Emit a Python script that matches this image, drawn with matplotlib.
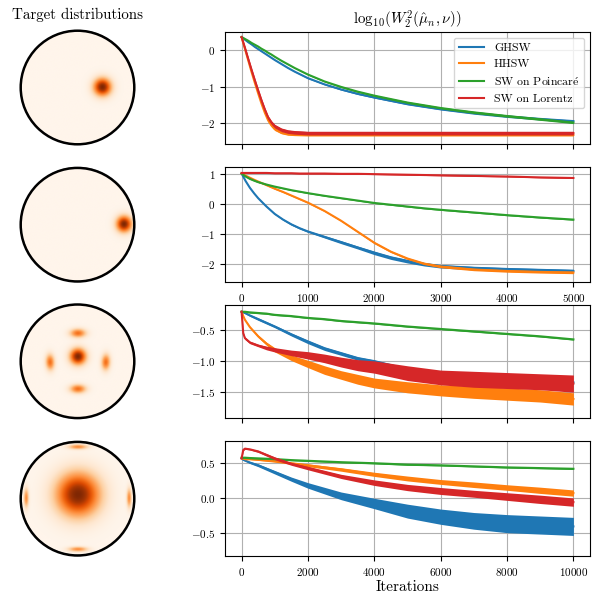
#!/usr/bin/env python3
"""Target distributions on the Poincare disk and W2 convergence curves."""

import matplotlib

matplotlib.use("Agg")
import matplotlib.pyplot as plt
from matplotlib.patches import Circle
import numpy as np

# ---------------------------------------------------------------- data
LABELS = ["GHSW", "HHSW", r"SW on Poincar$\mathrm{\acute{e}}$", "SW on Lorentz"]
COLORS = ["#1f77b4", "#ff7f0e", "#2ca02c", "#d62728"]

# row 1 (5000 iterations)
r1_t = [0, 50, 100, 150, 200, 250, 300, 350, 400, 450, 500, 600, 700, 800, 1000,
        1250, 1500, 1750, 2000, 2500, 3000, 3500, 4000, 4500, 5000]
r1_ghsw = [0.36, 0.29, 0.22, 0.16, 0.09, 0.03, -0.03, -0.09, -0.15, -0.21, -0.27, -0.38, -0.49,
           -0.59, -0.77, -0.94, -1.08, -1.2, -1.3, -1.48, -1.62, -1.73, -1.82, -1.89, -1.95]
r1_hhsw = [0.36, 0.04, -0.28, -0.6, -0.9, -1.19, -1.47, -1.72, -1.93, -2.07, -2.17, -2.27, -2.31,
           -2.32, -2.33, -2.33, -2.33, -2.33, -2.33, -2.33, -2.33, -2.33, -2.33, -2.33, -2.33]
r1_swp = [0.36, 0.31, 0.26, 0.2, 0.15, 0.1, 0.04, -0.01, -0.07, -0.12, -0.18, -0.29, -0.39,
          -0.49, -0.67, -0.86, -1.01, -1.14, -1.25, -1.44, -1.59, -1.71, -1.81, -1.9, -1.99]
r1_swl = [0.36, 0.07, -0.24, -0.54, -0.83, -1.11, -1.38, -1.63, -1.85, -1.99, -2.09, -2.19, -2.24,
          -2.26, -2.28, -2.28, -2.28, -2.28, -2.28, -2.28, -2.28, -2.28, -2.28, -2.28, -2.28]
r1_ghsw_n = [0.01, 0.01, 0.01, 0.01, 0.01, 0.01, 0.01, 0.01, 0.01, 0.01, 0.01, 0.01, 0.01,
             0.01, 0.015, 0.015, 0.02, 0.02, 0.02, 0.025, 0.025, 0.03, 0.03, 0.03, 0.03]
r1_hhsw_n = [0.01, 0.03, 0.04, 0.04, 0.04, 0.04, 0.04, 0.04, 0.04, 0.04, 0.04, 0.03, 0.03,
             0.03, 0.03, 0.03, 0.03, 0.03, 0.03, 0.03, 0.03, 0.03, 0.03, 0.03, 0.03]
r1_swp_n = [0.01, 0.01, 0.01, 0.01, 0.01, 0.01, 0.01, 0.01, 0.01, 0.01, 0.01, 0.01, 0.01,
            0.01, 0.015, 0.015, 0.02, 0.02, 0.02, 0.025, 0.025, 0.03, 0.03, 0.03, 0.03]
r1_swl_n = [0.01, 0.04, 0.05, 0.05, 0.05, 0.05, 0.05, 0.05, 0.05, 0.05, 0.05, 0.05, 0.05,
            0.05, 0.05, 0.05, 0.05, 0.05, 0.05, 0.05, 0.05, 0.05, 0.05, 0.05, 0.05]

# row 2 (5000 iterations)
r2_t = [0, 60, 125, 190, 250, 375, 500, 625, 750, 875, 1000, 1250, 1500, 1750, 2000, 2250,
        2500, 2750, 3000, 3500, 4000, 4500, 5000]
r2_ghsw = [1.03, 0.78, 0.55, 0.36, 0.2, -0.08, -0.33, -0.52, -0.68, -0.81, -0.92, -1.1, -1.28,
           -1.46, -1.64, -1.8, -1.92, -2.02, -2.09, -2.15, -2.19, -2.22, -2.25]
r2_hhsw = [1.03, 0.96, 0.89, 0.82, 0.76, 0.64, 0.52, 0.41, 0.29, 0.17, 0.05, -0.23, -0.56,
           -0.93, -1.3, -1.6, -1.83, -2.0, -2.1, -2.2, -2.25, -2.28, -2.3]
r2_swp = [1.03, 0.93, 0.85, 0.79, 0.74, 0.66, 0.59, 0.53, 0.47, 0.42, 0.37, 0.28, 0.2,
          0.12, 0.04, -0.02, -0.08, -0.14, -0.19, -0.28, -0.37, -0.45, -0.52]
r2_swl = [1.05, 1.05, 1.05, 1.05, 1.05, 1.05, 1.04, 1.04, 1.04, 1.03, 1.03, 1.03, 1.02,
          1.02, 1.01, 1.0, 0.99, 0.98, 0.97, 0.95, 0.93, 0.9, 0.88]
r2_ghsw_n = [0.01, 0.01, 0.01, 0.015, 0.015, 0.02, 0.02, 0.025, 0.03, 0.03, 0.03, 0.04, 0.05,
             0.05, 0.06, 0.06, 0.06, 0.06, 0.06, 0.06, 0.06, 0.06, 0.06]
r2_hhsw_n = [0.01, 0.015, 0.015, 0.015, 0.015, 0.015, 0.02, 0.02, 0.02, 0.02, 0.02, 0.02, 0.02,
             0.025, 0.03, 0.03, 0.03, 0.035, 0.04, 0.04, 0.04, 0.04, 0.04]
r2_swp_n = [0.01, 0.015, 0.015, 0.015, 0.015, 0.015, 0.015, 0.015, 0.015, 0.015, 0.015, 0.015,
            0.015, 0.015, 0.02, 0.02, 0.02, 0.02, 0.02, 0.02, 0.02, 0.02, 0.02]
r2_swl_n = [0.015, 0.015, 0.015, 0.015, 0.015, 0.015, 0.015, 0.015, 0.015, 0.015, 0.015, 0.015,
            0.015, 0.015, 0.015, 0.015, 0.015, 0.015, 0.015, 0.015, 0.015, 0.015, 0.015]

# row 3 (10000 iterations)
r3_t = [0, 50, 100, 250, 500, 750, 1000, 1500, 2000, 2500, 3000, 3500, 4000, 5000, 6000,
        7000, 8000, 9000, 10000]
r3_ghsw = [-0.2, -0.21, -0.22, -0.26, -0.32, -0.38, -0.44, -0.57, -0.69, -0.8, -0.88, -0.96,
           -1.01, -1.14, -1.22, -1.27, -1.3, -1.32, -1.35]
r3_hhsw = [-0.2, -0.27, -0.33, -0.45, -0.6, -0.72, -0.82, -0.95, -1.05, -1.15, -1.23, -1.3,
           -1.36, -1.43, -1.48, -1.51, -1.54, -1.57, -1.62]
r3_swp = [-0.2, -0.2, -0.2, -0.21, -0.22, -0.23, -0.25, -0.27, -0.3, -0.32, -0.35, -0.37,
          -0.39, -0.44, -0.48, -0.52, -0.56, -0.6, -0.65]
r3_swl = [-0.2, -0.55, -0.63, -0.7, -0.75, -0.79, -0.82, -0.87, -0.91, -0.96, -1.02, -1.07,
          -1.1, -1.2, -1.27, -1.3, -1.32, -1.34, -1.37]
r3_ghsw_n = [0.01, 0.01, 0.01, 0.015, 0.02, 0.02, 0.02, 0.025, 0.03, 0.03, 0.03, 0.03, 0.03,
             0.03, 0.03, 0.03, 0.03, 0.03, 0.03]
r3_hhsw_n = [0.01, 0.01, 0.01, 0.015, 0.02, 0.025, 0.035, 0.045, 0.06, 0.07, 0.07, 0.08, 0.08,
             0.09, 0.09, 0.1, 0.1, 0.1, 0.1]
r3_swp_n = [0.012, 0.012, 0.012, 0.012, 0.012, 0.012, 0.012, 0.012, 0.012, 0.012, 0.012,
            0.012, 0.012, 0.012, 0.012, 0.012, 0.012, 0.012, 0.012]
r3_swl_n = [0.01, 0.02, 0.02, 0.02, 0.02, 0.03, 0.035, 0.045, 0.06, 0.07, 0.08, 0.09, 0.1,
            0.12, 0.12, 0.13, 0.13, 0.13, 0.14]

# row 4 (10000 iterations)
r4_t = [0, 50, 100, 250, 500, 1000, 1500, 2000, 3000, 4000, 5000, 6000, 7000, 8000, 9000, 10000]
r4_ghsw = [0.57, 0.55, 0.54, 0.51, 0.47, 0.37, 0.27, 0.18, 0.03, -0.08, -0.19, -0.27, -0.33,
           -0.37, -0.39, -0.41]
r4_hhsw = [0.57, 0.57, 0.56, 0.56, 0.55, 0.53, 0.5, 0.47, 0.41, 0.34, 0.28, 0.23, 0.19, 0.15,
           0.11, 0.07]
r4_swp = [0.58, 0.58, 0.58, 0.575, 0.57, 0.56, 0.545, 0.535, 0.515, 0.5, 0.48, 0.47, 0.455,
          0.44, 0.43, 0.42]
r4_swl = [0.57, 0.69, 0.71, 0.7, 0.67, 0.57, 0.49, 0.43, 0.31, 0.22, 0.15, 0.1, 0.06, 0.02,
          -0.02, -0.06]
r4_ghsw_n = [0.01, 0.01, 0.01, 0.015, 0.02, 0.025, 0.03, 0.04, 0.055, 0.075, 0.1, 0.11, 0.12,
             0.13, 0.13, 0.13]
r4_hhsw_n = [0.01, 0.01, 0.01, 0.01, 0.01, 0.015, 0.015, 0.02, 0.025, 0.03, 0.035, 0.035, 0.04,
             0.04, 0.045, 0.045]
r4_swp_n = [0.01, 0.01, 0.01, 0.01, 0.01, 0.01, 0.01, 0.01, 0.01, 0.01, 0.01, 0.01, 0.01,
            0.01, 0.01, 0.01]
r4_swl_n = [0.01, 0.01, 0.01, 0.01, 0.015, 0.02, 0.02, 0.025, 0.03, 0.04, 0.045, 0.05, 0.05,
            0.055, 0.06, 0.06]

# target blobs on the disk: (cx, cy, sigma radial, sigma tangential, weight)
disk1_blobs = [(0.43, 0.0, 0.11, 0.11, 1.0)]
disk2_blobs = [(0.81, 0.0, 0.095, 0.1, 1.0)]
disk3_blobs = [(0.0, 0.08, 0.1, 0.1, 1.0),
               (0.49, -0.02, 0.055, 0.1, 0.6),
               (-0.49, -0.02, 0.055, 0.1, 0.6),
               (0.0, 0.49, 0.055, 0.1, 0.6),
               (0.0, -0.49, 0.055, 0.1, 0.6)]
disk4_blobs = [(0.0, 0.06, 0.27, 0.27, 1.0),
               (0.9, 0.0, 0.03, 0.12, 0.5),
               (-0.91, 0.0, 0.03, 0.12, 0.5),
               (0.0, 0.9, 0.03, 0.12, 0.5),
               (0.0, -0.9, 0.03, 0.12, 0.5)]


def configure_matplotlib():
    plt.rcParams.update(
        {
            "font.family": "serif",
            "font.serif": ["cmr10"],
            "mathtext.fontset": "cm",
            "axes.formatter.use_mathtext": True,
            "axes.unicode_minus": True,
            "font.size": 10,
            "xtick.labelsize": 8,
            "ytick.labelsize": 8,
            "legend.fontsize": 8.5,
        }
    )


def disk_density(blobs, n=400):
    g = np.linspace(-1, 1, n)
    x, y = np.meshgrid(g, g)
    z = np.zeros_like(x)
    for cx, cy, sr, st, w in blobs:
        ang = np.arctan2(cy, cx) if (cx or cy) else 0.0
        dx, dy = x - cx, y - cy
        dr = dx * np.cos(ang) + dy * np.sin(ang)
        dt = -dx * np.sin(ang) + dy * np.cos(ang)
        z += w * np.exp(-0.5 * ((dr / sr) ** 2 + (dt / st) ** 2))
    z = z / z.max()
    return np.ma.masked_where(x ** 2 + y ** 2 > 1, z)


def draw_disk(ax, blobs):
    z = disk_density(blobs)
    ax.imshow(z, cmap="Oranges", origin="lower", extent=(-1, 1, -1, 1),
              vmin=0, vmax=1, interpolation="bilinear")
    ax.add_patch(Circle((0, 0), 1.0, fill=False, edgecolor="black", linewidth=1.8))
    ax.set_xlim(-1.03, 1.03)
    ax.set_ylim(-1.03, 1.03)
    ax.set_aspect("equal")
    ax.axis("off")


def draw_curves(ax, t, series, noise):
    # each run keeps its band and its line together, later runs on top
    for k, (vals, nz, color, label) in enumerate(zip(series, noise, COLORS, LABELS)):
        v = np.asarray(vals)
        n = np.asarray(nz)
        ax.fill_between(t, v - n, v + n, color=color, linewidth=0, zorder=2 + k)
        ax.plot(t, v, color=color, linewidth=1.5, label=label, zorder=2.5 + k)
    ax.grid(True, color="#b0b0b0", linewidth=0.8)
    ax.set_axisbelow(True)


def main():
    configure_matplotlib()
    W, H = 600, 595
    fig = plt.figure(figsize=(W / 100, H / 100), dpi=100)

    def px_axes(left, top, right, bottom):
        return fig.add_axes([left / W, 1 - bottom / H, (right - left) / W, (bottom - top) / H])

    # left column: target distributions
    centers = [87.5, 224.7, 361.3, 498.7]
    half = 58.5
    for cy, blobs in zip(centers, [disk1_blobs, disk2_blobs, disk3_blobs, disk4_blobs]):
        ax = px_axes(77.5 - half, cy - half, 77.5 + half, cy + half)
        draw_disk(ax, blobs)
    fig.text(77.5 / W, 1 - 19.5 / H, "Target distributions", ha="center", va="baseline",
             fontsize=10.8)

    # right column: convergence curves
    rows = [
        (32, 144, r1_t, [r1_ghsw, r1_hhsw, r1_swp, r1_swl],
         [r1_ghsw_n, r1_hhsw_n, r1_swp_n, r1_swl_n], (-2.58, 0.5), [-2, -1, 0]),
        (167, 282, r2_t, [r2_ghsw, r2_hhsw, r2_swp, r2_swl],
         [r2_ghsw_n, r2_hhsw_n, r2_swp_n, r2_swl_n], (-2.62, 1.25), [-2, -1, 0, 1]),
        (305, 418, r3_t, [r3_ghsw, r3_hhsw, r3_swp, r3_swl],
         [r3_ghsw_n, r3_hhsw_n, r3_swp_n, r3_swl_n], (-1.93, -0.09), [-1.5, -1.0, -0.5]),
        (441, 556, r4_t, [r4_ghsw, r4_hhsw, r4_swp, r4_swl],
         [r4_ghsw_n, r4_hhsw_n, r4_swp_n, r4_swl_n], (-0.836, 0.82), [-0.5, 0.0, 0.5]),
    ]
    axes = []
    for i, (top, bottom, t, series, noise, ylim, yticks) in enumerate(rows):
        ax = px_axes(225, top, 590, bottom)
        draw_curves(ax, t, series, noise)
        ax.set_ylim(*ylim)
        ax.set_yticks(yticks)
        if i < 2:
            ax.set_xlim(-250, 5250)
            ax.set_xticks([0, 1000, 2000, 3000, 4000, 5000])
        else:
            ax.set_xlim(-500, 10500)
            ax.set_xticks([0, 2000, 4000, 6000, 8000, 10000])
        if i in (0, 2):
            ax.tick_params(labelbottom=False)
        axes.append(ax)

    axes[0].set_title(r"$\mathrm{log}_{10}(W_2^2(\hat{\mu}_n,\nu))$", fontsize=10.8, pad=5)
    axes[0].legend(loc="upper right", handlelength=2.2).set_zorder(10)
    axes[3].set_xlabel("Iterations", fontsize=11, labelpad=2)

    fig.savefig("out.png", dpi=100)
    plt.close(fig)


if __name__ == "__main__":
    main()
